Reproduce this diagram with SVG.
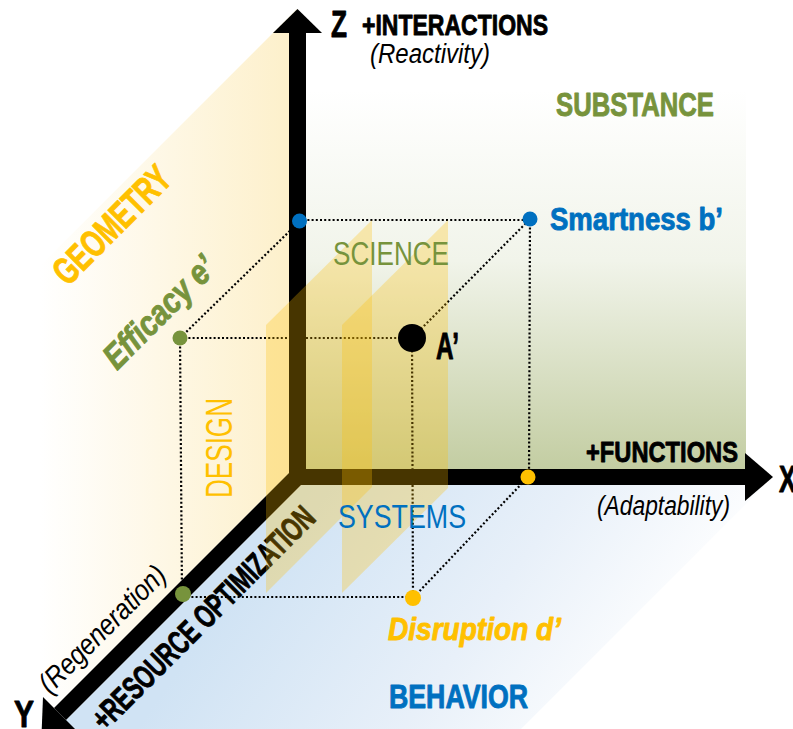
<svg xmlns="http://www.w3.org/2000/svg" width="793" height="729" viewBox="0 0 793 729">
<defs>
<linearGradient id="gGeo" gradientUnits="userSpaceOnUse" x1="40" y1="0" x2="289" y2="0">
<stop offset="0" stop-color="#ffffff"/><stop offset="1" stop-color="#fdf0cb"/>
</linearGradient>
<linearGradient id="gSub" gradientUnits="userSpaceOnUse" x1="0" y1="90" x2="0" y2="469">
<stop offset="0" stop-color="#ffffff"/><stop offset="0.45" stop-color="#f1f4ea"/><stop offset="1" stop-color="#c3cda2"/>
</linearGradient>
<linearGradient id="gBeh" gradientUnits="userSpaceOnUse" x1="300" y1="500" x2="620" y2="729">
<stop offset="0" stop-color="#d0e3f4"/><stop offset="0.55" stop-color="#e8f0f9"/><stop offset="1" stop-color="#ffffff"/>
</linearGradient>
<style>
.dot{fill:none;stroke:#000;stroke-width:2.2;stroke-dasharray:2 2.2}
.slab{fill:#ffc000;fill-opacity:0.28}
.t{font-family:"Liberation Sans",Arial,sans-serif}
.b{font-weight:bold;stroke-width:0.9;stroke-linejoin:round}
.i{font-style:italic}
.yel{fill:#ffc000;stroke:#ffc000}
.grn{fill:#77933c;stroke:#77933c}
.blu{fill:#0070c0;stroke:#0070c0}
.blk{fill:#000;stroke:#000}
.r{stroke:none}
</style>
</defs>
<rect width="793" height="729" fill="#ffffff"/>
<g id="planes">
<polygon points="297,9 40,266 40,722 297,465" fill="url(#gGeo)"/>
<rect x="306" y="33" width="440" height="436" fill="url(#gSub)"/>
<polygon points="301,485 765,485 521,729 57,729" fill="url(#gBeh)"/>
</g>
<g id="connectors">
<line class="dot" x1="299" y1="220" x2="530" y2="220"/>
<line class="dot" x1="299" y1="222" x2="180" y2="338"/>
<line class="dot" x1="180" y1="338" x2="412" y2="338"/>
<line class="dot" x1="412" y1="338" x2="530" y2="219"/>
<line class="dot" x1="530" y1="219" x2="529" y2="477"/>
<line class="dot" x1="412" y1="338" x2="413" y2="598"/>
<line class="dot" x1="180" y1="338" x2="182" y2="594"/>
<line class="dot" x1="183" y1="597" x2="413" y2="597"/>
<line class="dot" x1="528" y1="477" x2="413" y2="598"/>
</g>
<g id="axes" fill="#000">
<rect x="289" y="30" width="17" height="455"/>
<polygon points="273,33 297.5,9 322,33"/>
<rect x="289" y="469" width="458" height="16"/>
<polygon points="745,453 773,477 745,501"/>
<polygon points="54,708 290,472 306,472 306,485 301,485 66,720"/>
<polygon points="43,697 77,731 41.6,732.4"/>
<text class="t b blk" x="331" y="37" font-size="37" textLength="16" lengthAdjust="spacingAndGlyphs">Z</text>
<text class="t b blk" x="362" y="35" font-size="30" textLength="186" lengthAdjust="spacingAndGlyphs">+INTERACTIONS</text>
<text class="t i blk r" x="370" y="63" font-size="27" textLength="120" lengthAdjust="spacingAndGlyphs">(Reactivity)</text>
<text class="t b blk" x="586" y="462" font-size="30" textLength="152" lengthAdjust="spacingAndGlyphs">+FUNCTIONS</text>
<text class="t i blk r" x="597" y="515" font-size="27" textLength="133" lengthAdjust="spacingAndGlyphs">(Adaptability)</text>
<text class="t b blk" x="779" y="492" font-size="37" textLength="17" lengthAdjust="spacingAndGlyphs">X</text>
<text class="t b blk" x="14" y="727" font-size="37" textLength="20" lengthAdjust="spacingAndGlyphs">Y</text>
<text class="t b blk" transform="translate(105,732) rotate(-45)" font-size="33" textLength="300" lengthAdjust="spacingAndGlyphs">+RESOURCE OPTIMIZATION</text>
<text class="t i blk r" transform="translate(50,695) rotate(-45)" font-size="29" textLength="167" lengthAdjust="spacingAndGlyphs">(Regeneration)</text>
</g>
<g id="slabs">
<polygon class="slab" points="266,325 372,220 372,487 266,593"/>
<polygon class="slab" points="342,325 448,220 448,488 342,593"/>
</g>
<g id="plane-labels">
<text class="t b yel" transform="translate(68,287) rotate(-45)" font-size="38" textLength="150" lengthAdjust="spacingAndGlyphs">GEOMETRY</text>
<text class="t b grn" x="556" y="116" font-size="33" textLength="158" lengthAdjust="spacingAndGlyphs">SUBSTANCE</text>
<text class="t b blu" x="389" y="708" font-size="33" textLength="139" lengthAdjust="spacingAndGlyphs">BEHAVIOR</text>
<text class="t grn r" x="333" y="265" font-size="34" textLength="116" lengthAdjust="spacingAndGlyphs">SCIENCE</text>
<text class="t yel r" transform="translate(232,498) rotate(-90)" font-size="36" textLength="100" lengthAdjust="spacingAndGlyphs">DESIGN</text>
<text class="t blu r" x="338" y="528" font-size="34" textLength="128" lengthAdjust="spacingAndGlyphs">SYSTEMS</text>
</g>
<g id="node-z-b"><circle cx="299.5" cy="221" r="7.5" fill="#0070c0"/></g>
<g id="node-smartness">
<circle cx="530" cy="219" r="7.5" fill="#0070c0"/>
<text class="t b blu" x="550" y="230" font-size="32" textLength="173" lengthAdjust="spacingAndGlyphs">Smartness b’</text>
</g>
<g id="node-efficacy">
<circle cx="180" cy="338" r="7.5" fill="#77933c"/>
<text class="t b i grn" transform="translate(117,371) rotate(-45)" font-size="35" textLength="143" lengthAdjust="spacingAndGlyphs">Efficacy e’</text>
</g>
<g id="node-a">
<circle cx="412" cy="338" r="14" fill="#000"/>
<text class="t b blk" x="436" y="359" font-size="36" textLength="23" lengthAdjust="spacingAndGlyphs">A’</text>
</g>
<g id="node-x-d"><circle cx="528" cy="477" r="7.5" fill="#ffc000"/></g>
<g id="node-disruption">
<circle cx="413" cy="598" r="8" fill="#ffc000"/>
<text class="t b i yel" x="388" y="640" font-size="31" textLength="173" lengthAdjust="spacingAndGlyphs">Disruption d’</text>
</g>
<g id="node-y-e"><circle cx="183" cy="594" r="8" fill="#77933c"/></g>
</svg>
